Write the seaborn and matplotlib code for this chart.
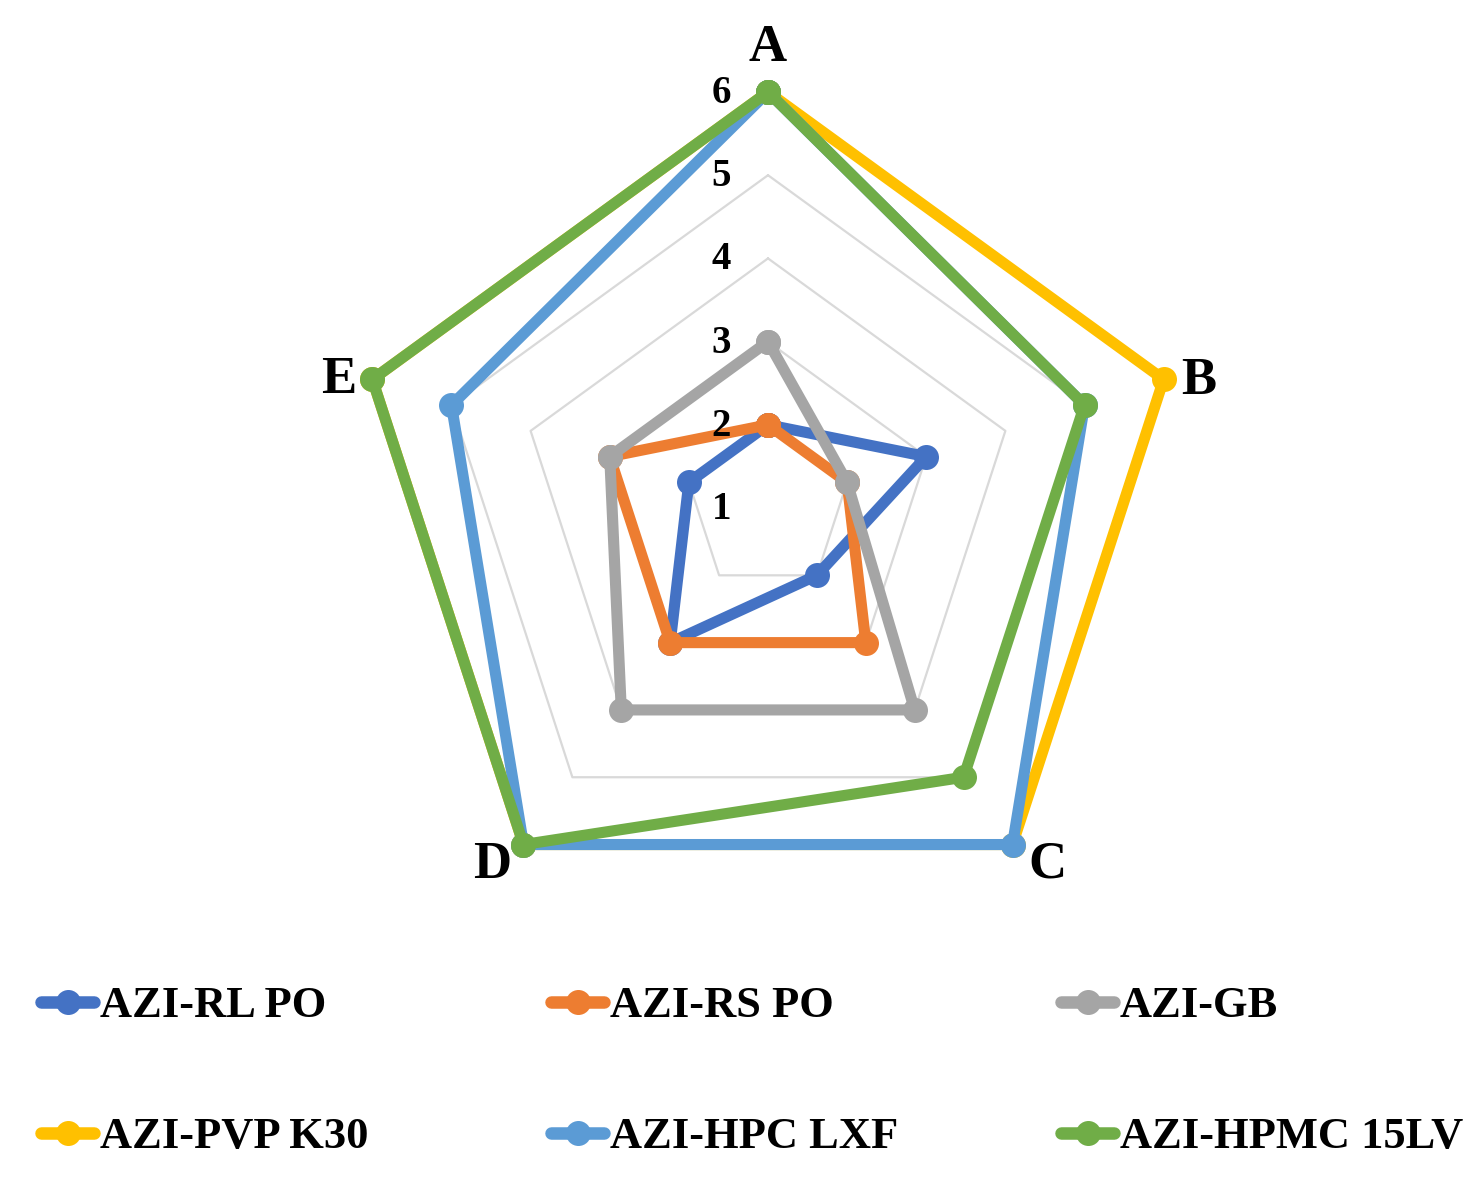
import numpy as np
import matplotlib
matplotlib.use('Agg')
import matplotlib.pyplot as plt
from matplotlib.lines import Line2D
import seaborn as sns

sns.set_style('white')
plt.rcParams['font.family'] = ['Liberation Serif', 'DejaVu Serif']
plt.rcParams['font.weight'] = 'bold'
plt.rcParams['text.color'] = 'black'

# ── Data ──────────────────────────────────────────────────
categories = ['A', 'B', 'C', 'D', 'E']
series_names = ['AZI-RL PO', 'AZI-RS PO', 'AZI-GB',
                'AZI-PVP K30', 'AZI-HPC LXF', 'AZI-HPMC 15LV']
rl_po   = [2, 3, 2, 3, 2]
rs_po   = [2, 2, 3, 3, 3]
gb      = [3, 2, 4, 4, 3]
pvp_k30 = [6, 6, 6, 6, 6]
hpc_lxf = [6, 5, 6, 6, 5]
hpmc    = [6, 5, 5, 6, 6]
grid_levels = [2, 3, 4, 5, 6]
tick_labels = [1, 2, 3, 4, 5, 6]

series_values = [rl_po, rs_po, gb, pvp_k30, hpc_lxf, hpmc]
colors = ['#4472C4', '#ED7D31', '#A5A5A5', '#FFC000', '#5B9BD5', '#70AD47']

FIG_W, FIG_H = 1477, 1177
fig = plt.figure(figsize=(FIG_W / 100, FIG_H / 100), dpi=100)

# polar area: centre (768, 508) px, radius 416 px
cx, cy, R = 768, 508, 416
ax = fig.add_axes([(cx - R) / FIG_W, (FIG_H - cy - R) / FIG_H,
                   2 * R / FIG_W, 2 * R / FIG_H], projection='polar')
ax.set_theta_offset(np.pi / 2)
ax.set_theta_direction(-1)
ax.set_ylim(1, 6)
ax.grid(False)
ax.spines['polar'].set_visible(False)
ax.set_xticks([])
ax.set_yticks([])
ax.set_facecolor('none')

n = len(categories)
angles = np.linspace(0, 2 * np.pi, n, endpoint=False)
loop = np.append(angles, 2 * np.pi)

# pentagon gridlines
for lvl in grid_levels:
    ax.plot(loop, [lvl] * (n + 1), color='#D9D9D9', linewidth=1.6, zorder=1,
            clip_on=False)

# series
for name, vals, col in zip(series_names, series_values, colors):
    sns.lineplot(x=loop, y=vals + vals[:1], sort=False, ax=ax, color=col,
                 linewidth=8, marker='o', markersize=18, markeredgewidth=0,
                 solid_joinstyle='round', solid_capstyle='round',
                 clip_on=False, legend=False, zorder=3)
ax.set_xlabel('')
ax.set_ylabel('')

# radial tick labels
for t in tick_labels:
    ax.annotate(str(t), xy=(0, t), xytext=(-26.6, -7.9), textcoords='offset points',
                ha='right', va='baseline', fontsize=28, fontweight='bold',
                color='black', annotation_clip=False)

# category labels
cat_offsets = [(0, 22.3), (25, -10.8), (25, -23.8), (-22.3, -23.8), (-24.5, -9.4)]
for ang, lab, off in zip(angles, categories, cat_offsets):
    ax.annotate(lab, xy=(ang, 6), xytext=off, textcoords='offset points',
                ha='center', va='baseline', fontsize=38, fontweight='bold',
                color='black', annotation_clip=False)

# legend (3 columns x 2 rows)
col_x = [41, 551, 1061]
row_y = [1006, 1137]
for i, (name, col) in enumerate(zip(series_names, colors)):
    h = Line2D([], [], color=col, linewidth=9, marker='o', markersize=18,
               markeredgewidth=0, solid_capstyle='round')
    leg = fig.legend(handles=[h], labels=[name], loc='center left',
                     bbox_to_anchor=(col_x[i % 3] / FIG_W, 1 - row_y[i // 3] / FIG_H),
                     frameon=False, borderpad=0, borderaxespad=0,
                     handlelength=1.2, handletextpad=0.13, numpoints=1,
                     labelcolor='black',
                     prop={'family': 'Liberation Serif', 'weight': 'bold', 'size': 32})

fig.savefig('out.png', dpi=100)
